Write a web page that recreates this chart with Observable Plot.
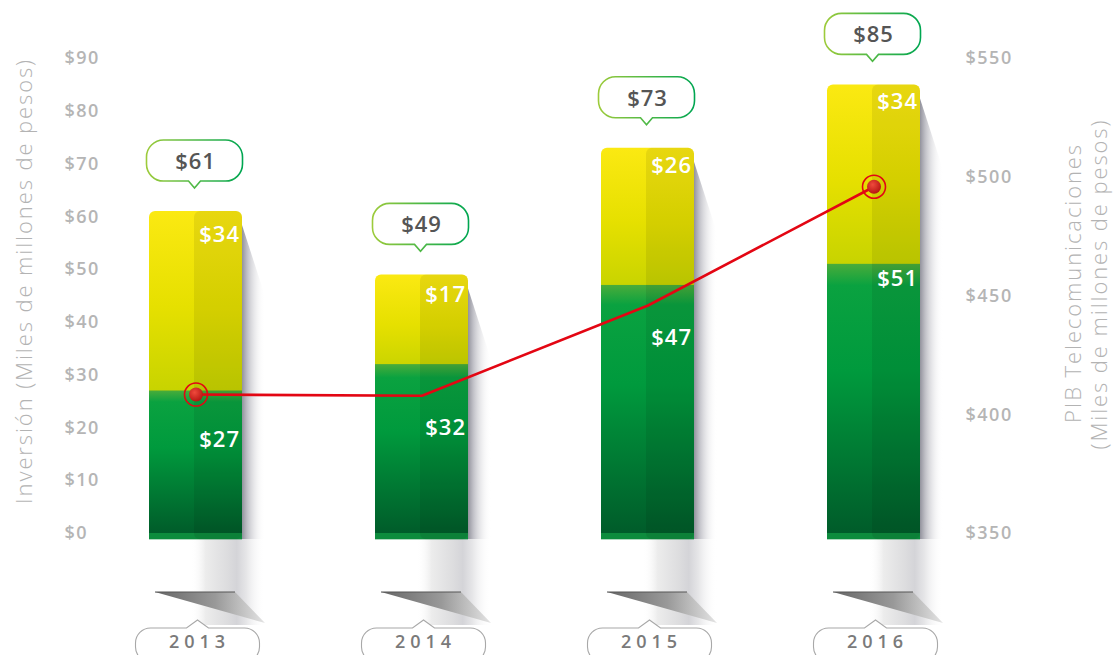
<!DOCTYPE html>
<html><head><meta charset="utf-8">
<script src="https://cdn.jsdelivr.net/npm/d3@7"></script>
<script src="https://cdn.jsdelivr.net/npm/@observablehq/plot@0.6"></script>
<style>
html,body{margin:0;padding:0;background:#fff;overflow:hidden;}
#chart{width:1115px;height:655px;overflow:hidden;}
</style></head><body><div id="chart"></div>
<script>
// ---- data ----
const years = ["2013", "2014", "2015", "2016"];
const greenValues = [27, 32, 47, 51];      // lower (green) segment
const yellowValues = [34, 17, 26, 34];     // upper (yellow) segment
const totals = [61, 49, 73, 85];           // bubble totals
const pibValues = [408.5, 408, 446, 496];  // PIB Telecomunicaciones (right axis)
const pibMarked = ["2013", "2016"];
const leftTicks = [0, 10, 20, 30, 40, 50, 60, 70, 80, 90];
const rightTicks = [350, 400, 450, 500, 550];
const leftTitle = "Inversión (Miles de millones de pesos)";
const rightTitle = ["PIB Telecomunicaciones", "(Miles de millones de pesos)"];

// right axis maps onto the left (investment) scale
const pibToY = d3.scaleLinear([350, 550], [0, 90]);
const rows = years.map((year, i) => ({
  year, green: greenValues[i], yellow: yellowValues[i], total: totals[i],
  pib: pibValues[i], pibY: pibToY(pibValues[i])
}));

const greenDy = [49, 63, 53, 15];
const topDy = [23, 20, 18, 17];
const FONT = "'Open Sans', sans-serif";

function custom(draw) {
  return function (...args) {
    const scales = args.find(a => a && typeof a === "object" && typeof a.x === "function" && typeof a.y === "function");
    const g = d3.create("svg:g");
    draw(g, scales);
    return g.node();
  };
}

const defs = custom(g => {
  const d = g.append("defs");
  const lin = (id, stops, horiz) => {
    const gr = d.append("linearGradient").attr("id", id)
      .attr("x1", 0).attr("y1", 0).attr("x2", horiz ? 1 : 0).attr("y2", horiz ? 0 : 1);
    stops.forEach(([o, c, op]) => gr.append("stop").attr("offset", o).attr("stop-color", c).attr("stop-opacity", op ?? 1));
  };
  lin("yellowGrad", [[0, "#fbe912"], [0.5, "#e6e000"], [1, "#c4d200"]]);
  lin("greenGrad", [[0, "#4aac3a"], [0.08, "#0aa240"], [0.4, "#009a3d"], [1, "#005c2a"]]);
  lin("sideShadow", [[0, "#8c8c97", 0.95], [0.25, "#b5b5bd", 0.8], [1, "#ffffff", 0]], true);
  lin("colShadow", [[0, "#ffffff", 0], [0.2, "#ececec", 1], [0.5, "#dcdcde", 1], [0.62, "#d4d4d8", 1], [0.75, "#e6e6e8", 1], [1, "#ffffff", 0]], true);
  lin("wedge", [[0, "#666666"], [0.55, "#999999"], [1, "#e4e4e4"]], true);
  lin("bubbleStroke", [[0, "#9dcb3b"], [1, "#00a651"]], true);
  const rg = d.append("radialGradient").attr("id", "dotGrad").attr("cx", 0.4).attr("cy", 0.35).attr("r", 0.7);
  rg.append("stop").attr("offset", 0).attr("stop-color", "#ef4a3c");
  rg.append("stop").attr("offset", 1).attr("stop-color", "#b3120f");
});

const shadows = custom((g, sc) => {
  const bw = sc.x.bandwidth ? sc.x.bandwidth() : 93;
  rows.forEach(r => {
    const L = sc.x(r.year), R = L + bw, T = sc.y(r.total), B = sc.y(0) + 6;
    const cx0 = L + bw * 0.45;
    g.append("rect").attr("x", cx0).attr("y", B).attr("width", R + 23 - cx0).attr("height", 86)
      .attr("fill", "url(#colShadow)");
    g.append("path").attr("d", `M${R},${T + 14} L${R + 23},${T + 85} L${R + 23},${B} L${R},${B} Z`)
      .attr("fill", "url(#sideShadow)");
    g.append("path").attr("d", `M${L + 6},${B + 53} L${R - 7},${B + 53} L${R + 23},${B + 84} Z`)
      .attr("fill", "url(#wedge)");
    g.append("rect").attr("x", L + 6).attr("y", B + 52).attr("width", R - L - 13).attr("height", 2).attr("fill", "#555").attr("opacity", 0.5);
  });
});

const bubbles = custom((g, sc) => {
  const bw = sc.x.bandwidth ? sc.x.bandwidth() : 93;
  rows.forEach(r => {
    const c = sc.x(r.year) + bw / 2 - 1, T = sc.y(r.total);
    const x0 = c - 48, x1 = c + 48, y0 = T - 71, y1 = T - 30, rr = 17, tip = T - 23, pw = 6;
    g.append("path").attr("d",
      `M${x0 + rr},${y0} H${x1 - rr} A${rr},${rr} 0 0 1 ${x1},${y0 + rr} V${y1 - rr} A${rr},${rr} 0 0 1 ${x1 - rr},${y1} ` +
      `H${c + pw} L${c},${tip} L${c - pw},${y1} H${x0 + rr} A${rr},${rr} 0 0 1 ${x0},${y1 - rr} V${y0 + rr} A${rr},${rr} 0 0 1 ${x0 + rr},${y0} Z`)
      .attr("fill", "#fff").attr("stroke", "url(#bubbleStroke)").attr("stroke-width", 1.6);
    g.append("text").attr("x", c + 1).attr("y", T - 50).attr("dy", "0.36em").attr("text-anchor", "middle")
      .attr("font-family", FONT).attr("font-weight", 600).attr("font-size", 22).attr("letter-spacing", 1)
      .attr("fill", "#555").text("$" + r.total);
  });
});

const badges = custom((g, sc) => {
  const bw = sc.x.bandwidth ? sc.x.bandwidth() : 93;
  rows.forEach(r => {
    const c = sc.x(r.year) + bw / 2 + 2;
    const x0 = c - 62, x1 = c + 62, y0 = 628, y1 = 662, rr = 15;
    g.append("path").attr("d",
      `M${x0 + rr},${y1} A${rr},${rr} 0 0 1 ${x0},${y1 - rr} V${y0 + rr} A${rr},${rr} 0 0 1 ${x0 + rr},${y0} H${c - 11} L${c},${y0 - 8} L${c + 11},${y0} ` +
      `H${x1 - rr} A${rr},${rr} 0 0 1 ${x1},${y0 + rr} V${y1 - rr} A${rr},${rr} 0 0 1 ${x1 - rr},${y1} Z`)
      .attr("fill", "#fff").attr("stroke", "#a8a8a8").attr("stroke-width", 1.1);
    g.append("text").attr("x", c + 2).attr("y", 642).attr("dy", "0.36em").attr("text-anchor", "middle")
      .attr("font-family", FONT).attr("font-weight", 600).attr("font-size", 18).attr("letter-spacing", 5)
      .attr("fill", "#7a7a7a").text(r.year);
  });
});

const titles = custom(g => {
  const t = (tr, s) => g.append("text").attr("transform", tr).attr("text-anchor", "middle")
    .attr("font-family", FONT).attr("font-weight", 300).attr("font-size", 22).attr("letter-spacing", 1.9)
    .attr("fill", "#b3b3b3").text(s);
  t("translate(32,281) rotate(-90)", leftTitle);
  t("translate(1081,283) rotate(-90)", rightTitle[0]);
  t("translate(1107,284) rotate(-90)", rightTitle[1]);
});

const valueText = {textAnchor: "end", fill: "#fff", fontSize: 22, fontWeight: 600, dx: 44};

const chart = Plot.plot({
  width: 1115, height: 655,
  marginTop: 58, marginBottom: 122, marginLeft: 147, marginRight: 194,
  style: {fontFamily: FONT, background: "#fff"},
  x: {domain: years, paddingInner: 0.59, paddingOuter: 0, axis: null},
  y: {domain: [0, 90], axis: null},
  marks: [
    defs,
    shadows,
    Plot.barY(rows, {x: "year", y1: d => d.green - 2, y2: "total", fill: "url(#yellowGrad)", rx: 6}),
    Plot.barY(rows, {x: "year", y1: 0, y2: "green", fill: "url(#greenGrad)"}),
    Plot.barY(rows, {x: "year", y1: -1.2, y2: 0, fill: "#0d8c3d"}),
    Plot.barY(rows, {x: "year", y1: -1.2, y2: "total", insetLeft: 45, fill: "#000", fillOpacity: 0.075, rx: 6}),
    Plot.line(rows, {x: "year", y: "pibY", stroke: "#e30613", strokeWidth: 2.6}),
    Plot.dot(rows.filter(d => pibMarked.includes(d.year)), {x: "year", y: "pibY", r: 11.5, stroke: "#e30613", strokeWidth: 1.6, fill: "none"}),
    Plot.dot(rows.filter(d => pibMarked.includes(d.year)), {x: "year", y: "pibY", r: 7, fill: "url(#dotGrad)", stroke: "none"}),
    ...rows.map((r, i) => Plot.text([r], {x: "year", y: "total", text: d => "$" + d.yellow, dy: topDy[i], ...valueText})),
    ...rows.map((r, i) => Plot.text([r], {x: "year", y: "green", text: d => "$" + d.green, dy: greenDy[i], ...valueText})),
    Plot.axisY({anchor: "left", ticks: leftTicks, tickFormat: d => "$" + d, tickSize: 0, tickPadding: 0, dx: -83,
      textAnchor: "start", fontSize: 18, fontWeight: 600, fill: "#b5b5b5", label: null}),
    Plot.axisY({anchor: "right", ticks: rightTicks.map(v => pibToY(v)), tickFormat: d => "$" + Math.round(pibToY.invert(d)),
      tickSize: 0, tickPadding: 0, dx: 44, textAnchor: "start", fontSize: 18, fontWeight: 600, fill: "#b5b5b5", label: null}),
    bubbles,
    badges,
    titles
  ]
});
d3.select(chart).selectAll('g[aria-label="y-axis tick label"] text').attr("letter-spacing", 1.5);
d3.select(chart).selectAll('g[aria-label="text"] text').attr("letter-spacing", 1);
document.getElementById("chart").append(chart);
</script>
</body></html>
